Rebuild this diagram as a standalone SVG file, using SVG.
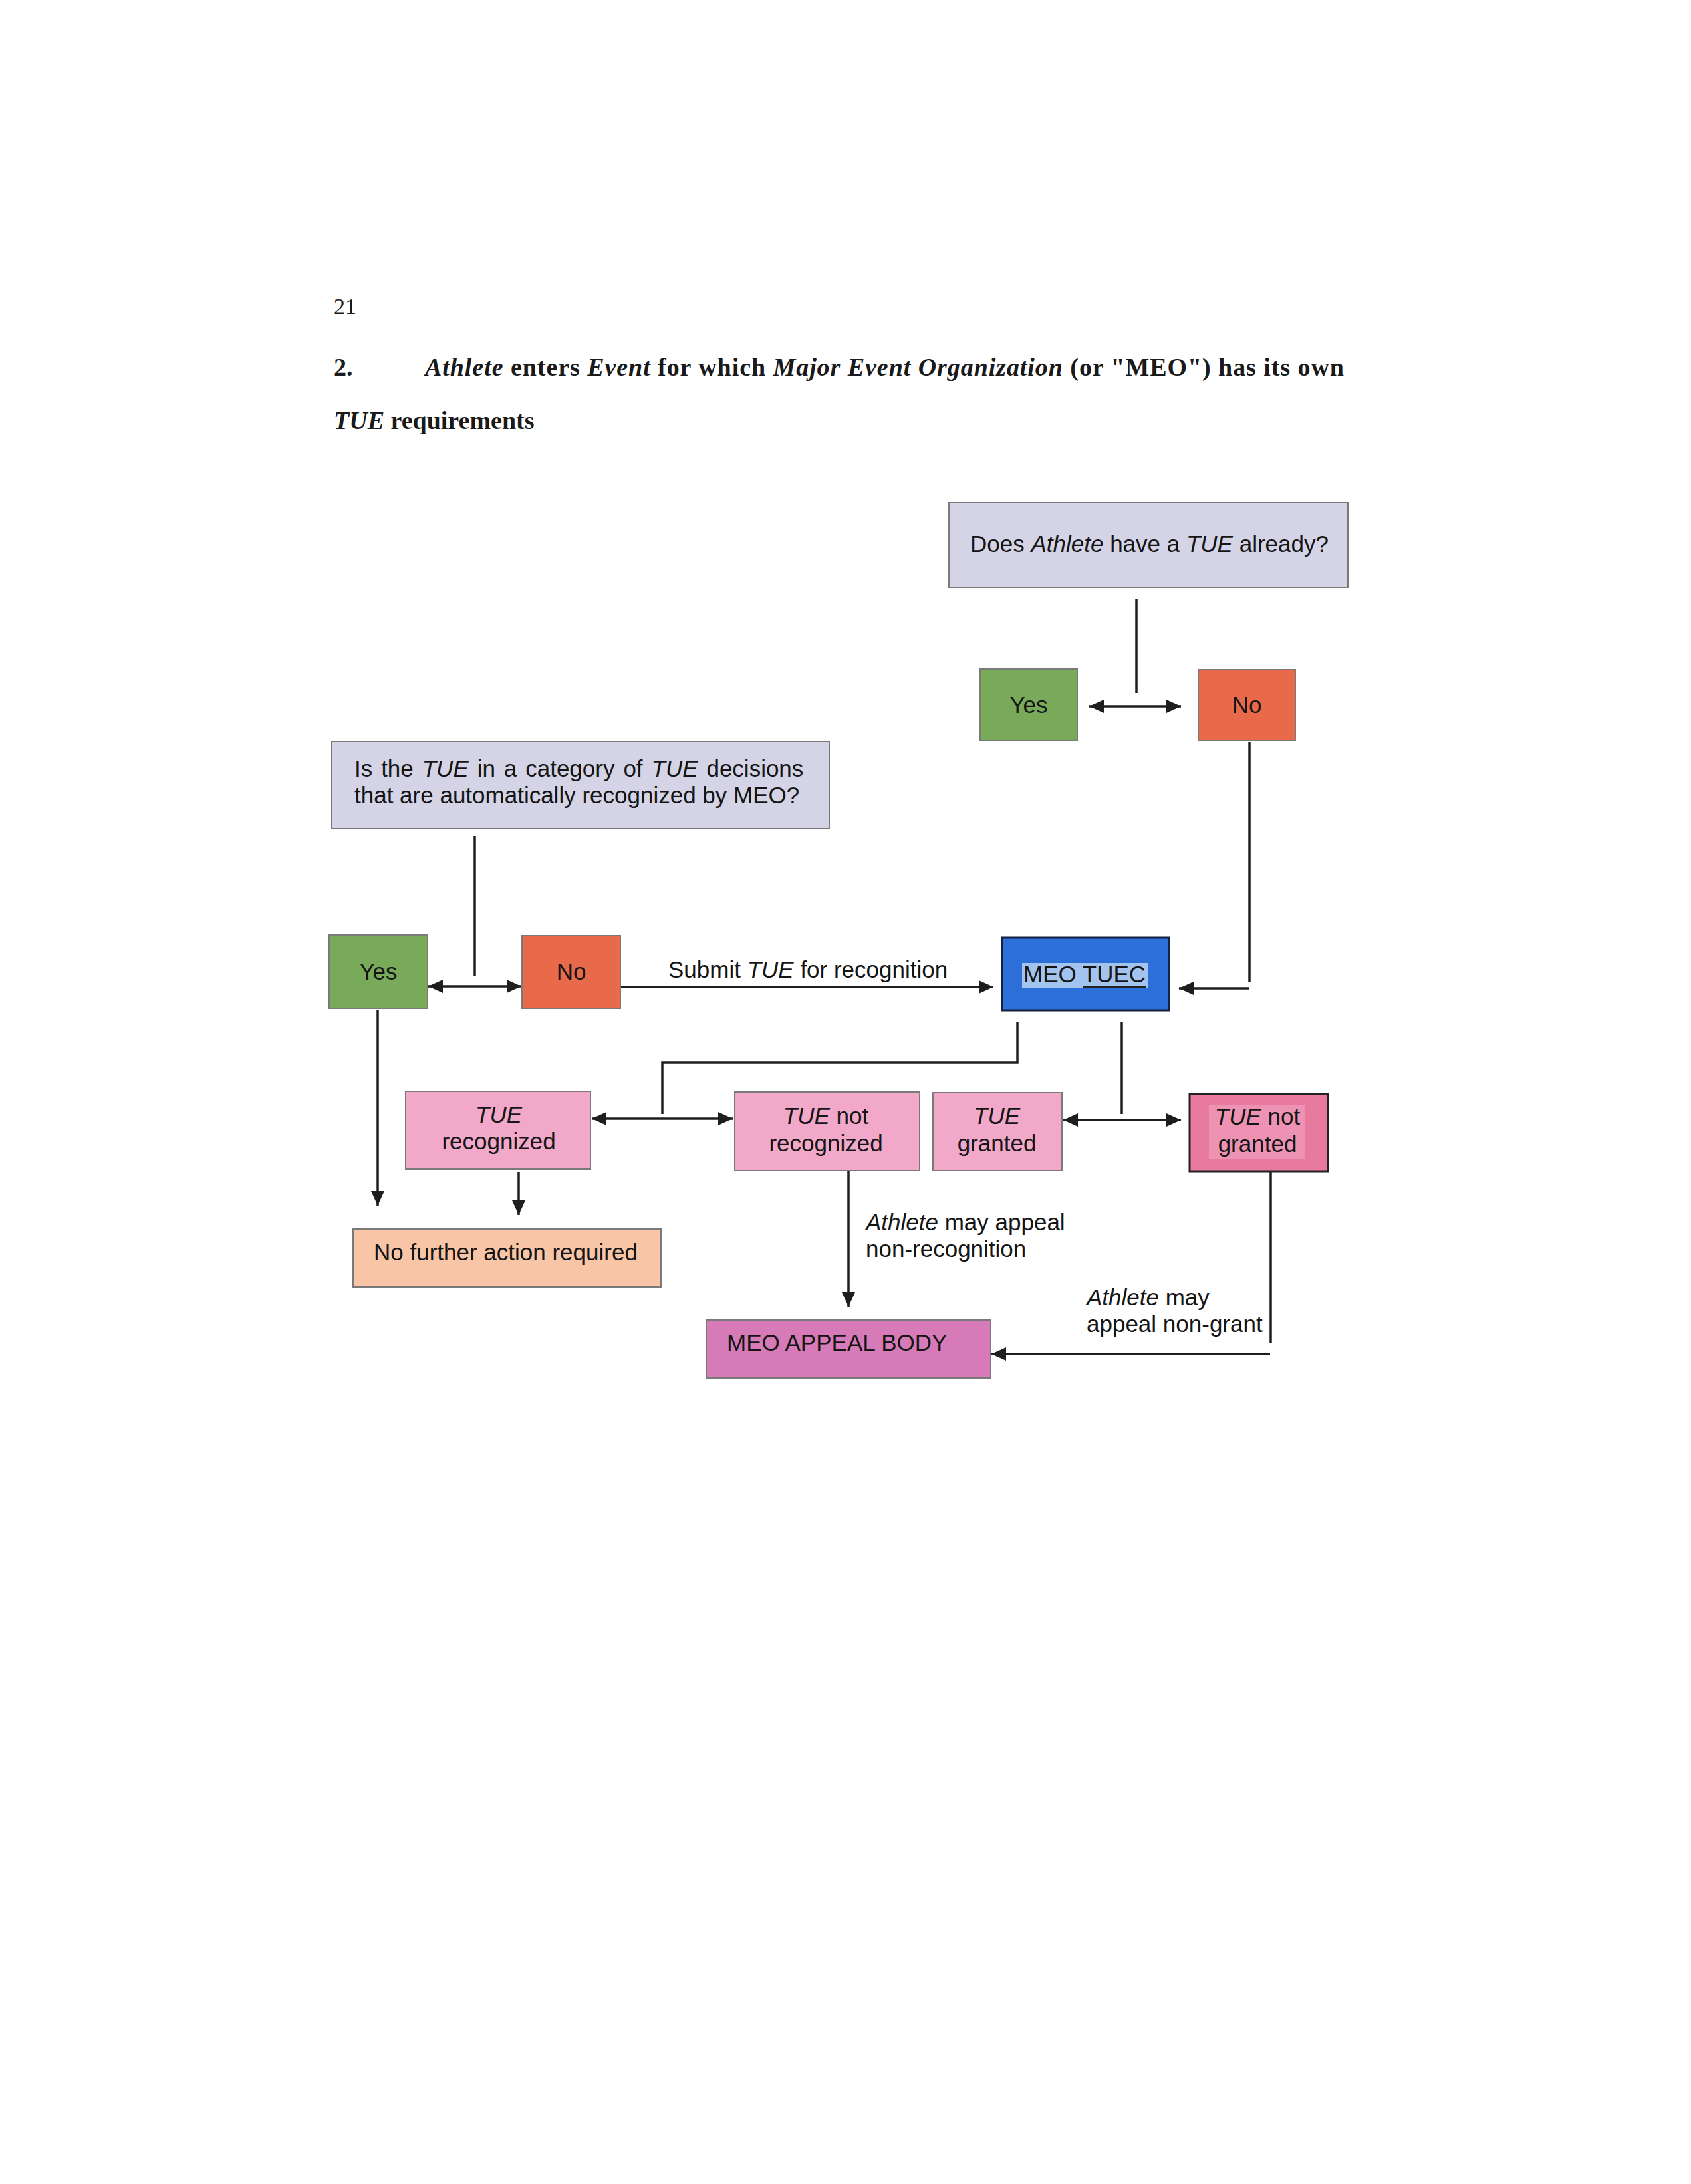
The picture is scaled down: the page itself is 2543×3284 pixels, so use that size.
<svg xmlns="http://www.w3.org/2000/svg" width="2543" height="3284" viewBox="0 0 2543 3284">
<defs>
<marker id="ah" viewBox="0 0 22 20" refX="22" refY="10" markerWidth="22" markerHeight="20" markerUnits="userSpaceOnUse" orient="auto-start-reverse">
<path d="M0,0 L22,10 L0,20 z" fill="#1e1e1e"/>
</marker>
<style>
.hd{font-family:"Liberation Serif","Times New Roman",serif;font-weight:bold;font-size:38px;fill:#1a1a1a}
.pg{font-family:"Liberation Serif","Times New Roman",serif;font-size:34px;fill:#1a1a1a}
.t{font-family:"Liberation Sans",Arial,sans-serif;font-size:35px;fill:#151515}
.c{text-anchor:middle}
.i{font-style:italic}
.box{stroke:#7a7a7a;stroke-width:2}
.q{fill:#d4d4e6}
.yes{fill:#79aa5a}
.no{fill:#e96a4b}
.pink{fill:#f2a8c9}
.peach{fill:#f8c5a7}
.appeal{fill:#d67bb8}
.ln{fill:none;stroke:#1e1e1e;stroke-width:3.5}
</style>
</defs>
<rect width="2543" height="3284" fill="#ffffff"/>

<text class="pg" x="502" y="472">21</text>
<text class="hd" x="502" y="565">2.</text>
<text class="hd" x="639" y="565" textLength="1382" lengthAdjust="spacing"><tspan class="i">Athlete</tspan> enters <tspan class="i">Event</tspan> for which <tspan class="i">Major Event Organization</tspan> (or "MEO") has its own</text>
<text class="hd" x="502" y="645"><tspan class="i">TUE</tspan> requirements</text>

<g id="connectors">
<path class="ln" d="M1709 900 V1042"/>
<path class="ln" d="M1638 1062 H1776" marker-start="url(#ah)" marker-end="url(#ah)"/>
<path class="ln" d="M1879 1116 V1477"/>
<path class="ln" d="M1879 1486 H1773" marker-end="url(#ah)"/>
<path class="ln" d="M714 1257 V1468"/>
<path class="ln" d="M644 1483 H784" marker-start="url(#ah)" marker-end="url(#ah)"/>
<path class="ln" d="M933 1484 H1494" marker-end="url(#ah)"/>
<path class="ln" d="M1530 1537 V1598 H996 V1675"/>
<path class="ln" d="M1687 1537 V1675"/>
<path class="ln" d="M890 1682 H1102" marker-start="url(#ah)" marker-end="url(#ah)"/>
<path class="ln" d="M1599 1684 H1776" marker-start="url(#ah)" marker-end="url(#ah)"/>
<path class="ln" d="M568 1519 V1813" marker-end="url(#ah)"/>
<path class="ln" d="M780 1763 V1827" marker-end="url(#ah)"/>
<path class="ln" d="M1276 1760 V1965" marker-end="url(#ah)"/>
<path class="ln" d="M1911 1762 V2020"/>
<path class="ln" d="M1910 2036 H1491" marker-end="url(#ah)"/>
</g>

<g id="q1">
<rect class="box q" x="1427" y="756" width="600" height="127"/>
<text class="t" x="1459" y="830">Does <tspan class="i">Athlete</tspan> have a <tspan class="i">TUE</tspan> already?</text>
</g>
<g id="yes1">
<rect class="box yes" x="1474" y="1006" width="146" height="107"/>
<text class="t c" x="1547" y="1072">Yes</text>
</g>
<g id="no1">
<rect class="box no" x="1802" y="1007" width="146" height="106"/>
<text class="t c" x="1875" y="1072">No</text>
</g>

<g id="q2">
<rect class="box q" x="499" y="1115" width="748" height="131"/>
<text class="t" x="533" y="1168" word-spacing="3.2">Is the <tspan class="i">TUE</tspan> in a category of <tspan class="i">TUE</tspan> decisions</text>
<text class="t" x="533" y="1208">that are automatically recognized by MEO?</text>
</g>
<g id="yes2">
<rect class="box yes" x="495" y="1406" width="148" height="110"/>
<text class="t c" x="569" y="1473">Yes</text>
</g>
<g id="no2">
<rect class="box no" x="785" y="1407" width="148" height="109"/>
<text class="t c" x="859" y="1473">No</text>
</g>
<text class="t" x="1005" y="1470">Submit <tspan class="i">TUE</tspan> for recognition</text>

<g id="meotuec">
<rect x="1507" y="1410" width="251" height="109" fill="#2c6fd9" stroke="#15213f" stroke-width="3"/>
<rect x="1537" y="1448" width="189" height="38" fill="#a3c4ee"/>
<text class="t" x="1539" y="1477" textLength="184" lengthAdjust="spacingAndGlyphs">MEO TUEC</text>
<path d="M1629 1484 H1724" stroke="#222" stroke-width="3"/>
</g>

<g id="recognized">
<rect class="box pink" x="610" y="1641" width="278" height="117"/>
<text class="t c i" x="750" y="1688">TUE</text>
<text class="t c" x="750" y="1728">recognized</text>
</g>
<g id="notrecognized">
<rect class="box pink" x="1105" y="1642" width="278" height="118"/>
<text class="t c" x="1242" y="1690"><tspan class="i">TUE</tspan> not</text>
<text class="t c" x="1242" y="1731">recognized</text>
</g>
<g id="granted">
<rect class="box pink" x="1403" y="1643" width="194" height="117"/>
<text class="t c i" x="1499" y="1690">TUE</text>
<text class="t c" x="1499" y="1731">granted</text>
</g>
<g id="notgranted">
<rect x="1789" y="1645" width="208" height="117" fill="#e87aa0" stroke="#222" stroke-width="3"/>
<rect x="1818" y="1661" width="144" height="82" fill="#ee92b3"/>
<text class="t c" x="1891" y="1691"><tspan class="i">TUE</tspan> not</text>
<text class="t c" x="1891" y="1732">granted</text>
</g>

<g id="nofurther">
<rect class="box peach" x="531" y="1848" width="463" height="87"/>
<text class="t" x="562" y="1895">No further action required</text>
</g>

<text class="t" x="1302" y="1850"><tspan class="i">Athlete</tspan> may appeal</text>
<text class="t" x="1302" y="1890">non-recognition</text>

<g id="appealbody">
<rect class="box appeal" x="1062" y="1985" width="428" height="87"/>
<text class="t" x="1093" y="2031">MEO APPEAL BODY</text>
</g>

<text class="t" x="1634" y="1963"><tspan class="i">Athlete</tspan> may</text>
<text class="t" x="1634" y="2003">appeal non-grant</text>
</svg>
